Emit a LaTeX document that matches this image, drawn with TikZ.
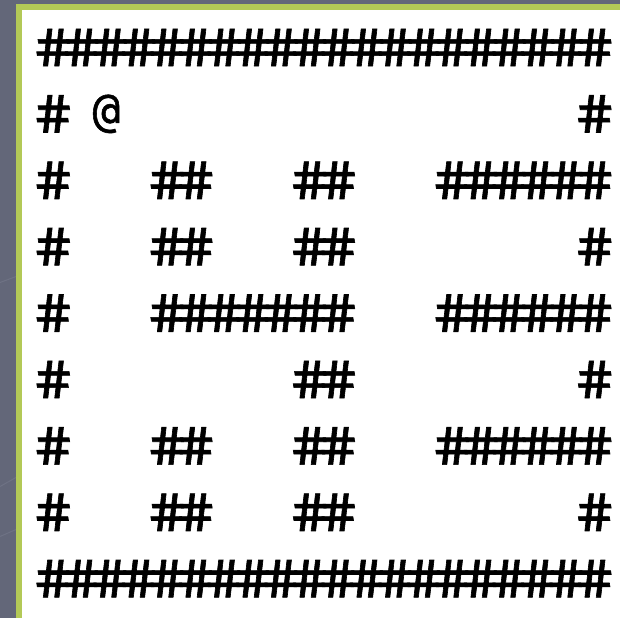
\documentclass[tikz,border=0pt]{standalone}
\usepackage{fontspec}
\usepackage{xcolor}
\usepackage{tikz}
\usetikzlibrary{positioning}
\newfontfamily\mapfont{DejaVu Sans Mono}[FakeStretch=1.1,FakeSlant=-0.16,FakeBold=1.2,LetterSpace=-11.4]
\newfontfamily\herofont{DejaVu Sans Mono}[FakeBold=1.2]
\definecolor{slatebg}{HTML}{636779}
\definecolor{slateline}{HTML}{6e7284}
\definecolor{limeedge}{HTML}{B3C957}

\begin{document}
\begin{tikzpicture}[
  x=28.5pt, y=-66.4pt,
  wall/.style={inner sep=0pt, xshift=2pt, font=\mapfont\fontsize{52}{52}\selectfont, text=black},
  hero/.style={inner sep=0pt, font=\herofont\fontsize{46}{46}\selectfont, text=black}
]
% slide background and panel
\useasboundingbox (-54.25pt,47.5pt) rectangle (565.75pt,-570.5pt);
\fill[slatebg] (-54.25pt,47.5pt) rectangle (565.75pt,-570.5pt);
\draw[slateline, line width=1pt] (-54.25pt,-235pt) -- (-38.25pt,-229pt);
\draw[slateline, line width=1pt] (-54.25pt,-439pt) -- (-38.25pt,-430pt);
\draw[slateline, line width=1pt] (-54.25pt,-489pt) -- (-38.25pt,-482pt);
\fill[limeedge] (-38.25pt,43.5pt) rectangle (565.75pt,-570.5pt);
\fill[white] (-32.25pt,37.5pt) rectangle (565.75pt,-570.5pt);

% outer walls
\node[wall] (top) at (9.5,0) {\#\#\#\#\#\#\#\#\#\#\#\#\#\#\#\#\#\#\#\#};
\node[wall] (bottom) at (9.5,8) {\#\#\#\#\#\#\#\#\#\#\#\#\#\#\#\#\#\#\#\#};

% row 1
\node[wall] (r1c0) at (0,1) {\#};
\node[hero] (player) at (1.83,1) {@};
\node[wall] (r1c19) at (19,1) {\#};

% row 2
\node[wall] (r2c0) at (0,2) {\#};
\node[wall] (r2c4) at (4.5,2) {\#\#};
\node[wall] (r2c9) at (9.5,2) {\#\#};
\node[wall] (r2c14) at (16.5,2) {\#\#\#\#\#\#};

% row 3
\node[wall] (r3c0) at (0,3) {\#};
\node[wall] (r3c4) at (4.5,3) {\#\#};
\node[wall] (r3c9) at (9.5,3) {\#\#};
\node[wall] (r3c19) at (19,3) {\#};

% row 4
\node[wall] (r4c0) at (0,4) {\#};
\node[wall] (r4c4) at (7,4) {\#\#\#\#\#\#\#};
\node[wall] (r4c14) at (16.5,4) {\#\#\#\#\#\#};

% row 5
\node[wall] (r5c0) at (0,5) {\#};
\node[wall] (r5c9) at (9.5,5) {\#\#};
\node[wall] (r5c19) at (19,5) {\#};

% row 6
\node[wall] (r6c0) at (0,6) {\#};
\node[wall] (r6c4) at (4.5,6) {\#\#};
\node[wall] (r6c9) at (9.5,6) {\#\#};
\node[wall] (r6c14) at (16.5,6) {\#\#\#\#\#\#};

% row 7
\node[wall] (r7c0) at (0,7) {\#};
\node[wall] (r7c4) at (4.5,7) {\#\#};
\node[wall] (r7c9) at (9.5,7) {\#\#};
\node[wall] (r7c19) at (19,7) {\#};

\end{tikzpicture}
\end{document}
